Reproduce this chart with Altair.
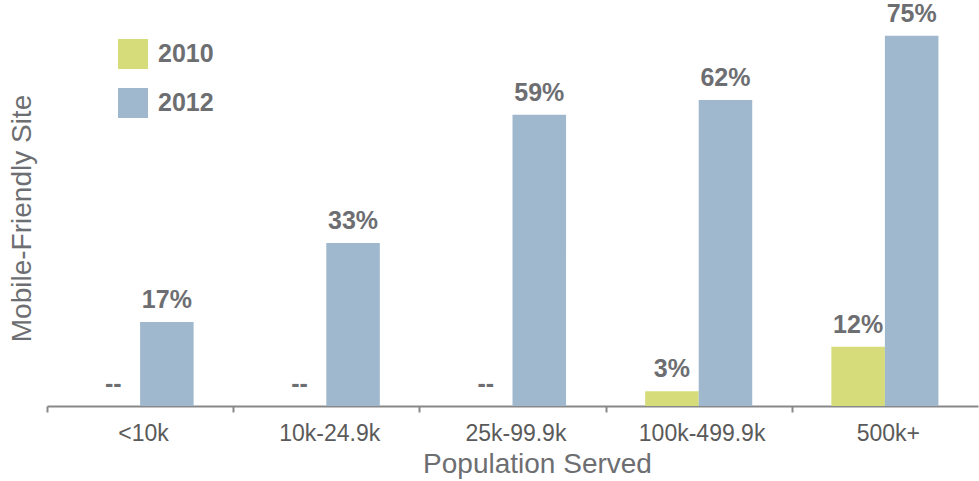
import altair as alt
import pandas as pd

categories = ["<10k", "10k-24.9k", "25k-99.9k", "100k-499.9k", "500k+"]
years = ["2010", "2012"]
values_2010 = [0, 0, 0, 3, 12]
values_2012 = [17, 33, 59, 62, 75]
labels_2010 = ["--", "--", "--", "3%", "12%"]
labels_2012 = ["17%", "33%", "59%", "62%", "75%"]

rows = []
for i, c in enumerate(categories):
    rows.append({"cat": c, "year": "2010", "value": values_2010[i], "label": labels_2010[i]})
    rows.append({"cat": c, "year": "2012", "value": values_2012[i], "label": labels_2012[i]})
df = pd.DataFrame(rows)

FONT = "Liberation Sans"
GRAY = "#6d6e71"

x = alt.X("cat:N", sort=categories, title="Population Served",
          scale=alt.Scale(paddingInner=0.425, paddingOuter=0.2125),
          axis=alt.Axis(labelAngle=0, tickBand="center", tickOffset=-93.1,
                        labelOffset=96, labelFontSize=23,
                        labelColor="#5a5a5a", titleFontSize=28, titleColor="#6d6e71",
                        titleFontWeight="normal", domainColor="#888888", domainWidth=2,
                        tickColor="#888888", tickWidth=2, tickSize=6, labelPadding=10,
                        labelFont=FONT, titleFont=FONT,
                        titleX=490, titleY=66, titleBaseline="alphabetic",
                        titleAlign="center"))
y = alt.Y("value:Q", scale=alt.Scale(domain=[0, 80], nice=False),
          title="Mobile-Friendly Site",
          axis=alt.Axis(labels=False, ticks=False, domain=False, grid=False,
                        titleFontSize=28, titleColor="#6d6e71", titleFontWeight="normal",
                        titleFont=FONT, titleX=-25, titleY=207,
                        titleBaseline="middle", titleAlign="center"))
xo = alt.XOffset("year:N", sort=years)

bars = alt.Chart(df).mark_bar().encode(
    x=x, y=y, xOffset=xo,
    color=alt.Color("year:N", sort=years, title=None,
                    scale=alt.Scale(domain=years, range=["#d5dc79", "#a0b8cd"]),
                    legend=alt.Legend(orient="none", legendX=71, legendY=28,
                                      symbolType="square", symbolSize=900,
                                      symbolStrokeWidth=0, symbolOpacity=1,
                                      labelFontSize=25, labelFontWeight="bold",
                                      labelColor=GRAY, labelFont=FONT,
                                      rowPadding=19, labelOffset=10)),
)

text = alt.Chart(df).mark_text(dy=-14, fontSize=25, fontWeight="bold",
                               color=GRAY, font=FONT, baseline="alphabetic").encode(
    x=alt.X("cat:N", sort=categories), y=alt.Y("value:Q"), xOffset=xo,
    text="label:N",
)

chart = alt.layer(bars, text).properties(
    width=931, height=395, autosize=alt.AutoSizeParams(type="none"),
    padding={"left": 47, "top": 11, "right": 1, "bottom": 75},
).configure(font=FONT).configure_view(stroke=None, strokeWidth=0)

chart.save("out.html", embed_options={"renderer": "svg", "actions": False})
